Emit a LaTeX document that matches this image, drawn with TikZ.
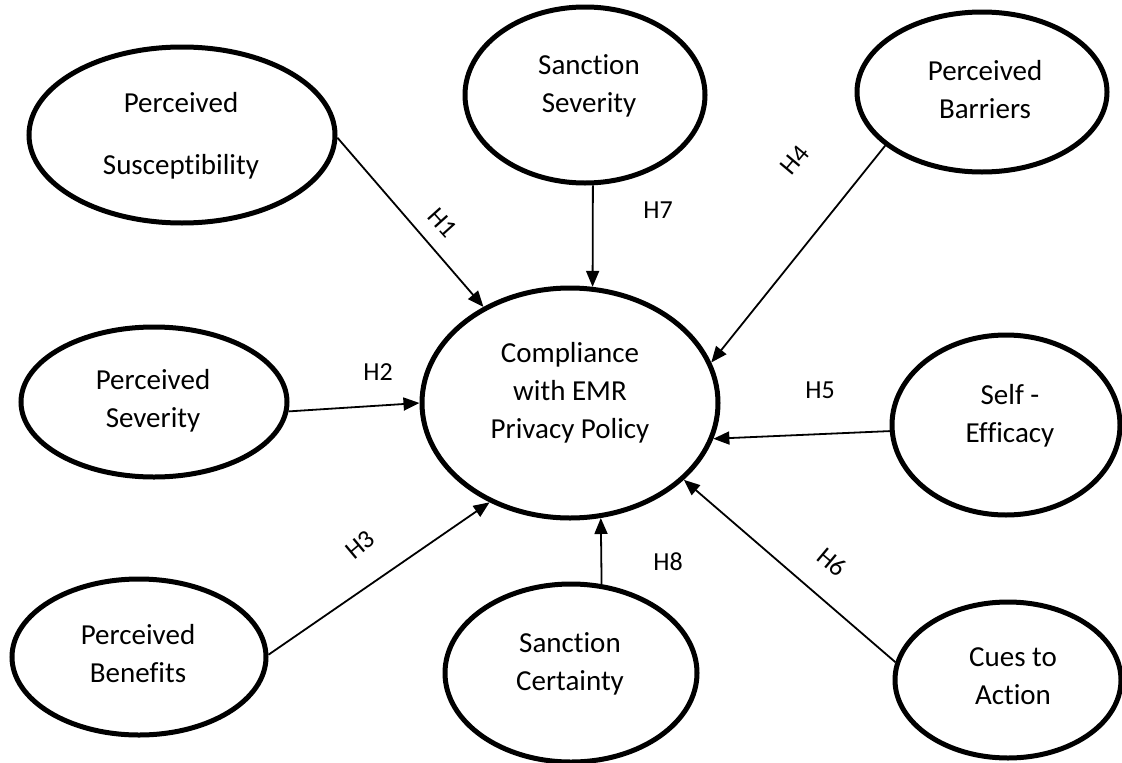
\documentclass[tikz,border=0pt]{standalone}
\usepackage{fontspec}
\setmainfont{Carlito}[Ligatures=NoCommon]
\usetikzlibrary{shapes.geometric,arrows.meta}
\begin{document}
\begin{tikzpicture}[x=1pt,y=-1pt,
  construct/.style={draw, ellipse, line width=5pt, inner sep=0pt},
  txt/.style={align=center, font=\fontsize{29}{38}\selectfont},
  hyp/.style={font=\fontsize{26}{30}\selectfont, inner sep=0pt},
  arr/.style={line width=1.8pt, -{Triangle[length=16pt,width=13pt]}},
  ]
\useasboundingbox (0,0) rectangle (1122,763);
% constructs
\node[construct, minimum width=306pt, minimum height=176pt] (sus) at (182,135) {};
\node[construct, minimum width=240pt, minimum height=176pt] (ssev) at (585,95) {};
\node[construct, minimum width=250pt, minimum height=160pt] (bar) at (982,92) {};
\node[construct, minimum width=296pt, minimum height=230pt] (comp) at (570,403) {};
\node[construct, minimum width=266pt, minimum height=150pt] (sev) at (154,402) {};
\node[construct, minimum width=228pt, minimum height=180pt] (self) at (1006,425) {};
\node[construct, minimum width=254pt, minimum height=156pt] (ben) at (139,657) {};
\node[construct, minimum width=252pt, minimum height=178pt] (cert) at (571,673) {};
\node[construct, minimum width=226pt, minimum height=156pt] (cues) at (1008,680) {};
% texts
\node[txt, font=\fontsize{29}{62}\selectfont] (susT) at (181,136) {Perceived\\Susceptibility};
\node[txt] (ssevT) at (589,86) {Sanction\\Severity};
\node[txt] (barT) at (985,90) {Perceived\\Barriers};
\node[txt] (compT) at (570,393) {Compliance\\with EMR\\Privacy Policy};
\node[txt] (sevT) at (153,401) {Perceived\\Severity};
\node[txt] (selfT) at (1010,416) {Self -\\Efficacy};
\node[txt] (benT) at (138,654) {Perceived\\Benefits};
\node[txt] (certT) at (570,664) {Sanction\\Certainty};
\node[txt] (cuesT) at (1013,676) {Cues to\\Action};
% connectors
\draw[arr] (sus.-1) -- (comp.132);
\draw[arr] (ssev.-85) -- (comp.79);
\draw[arr] (bar.209.6) -- (comp.16.8);
\draw[arr] (sev.-4.3) -- (comp.180);
\draw[arr] (self.183.5) -- (comp.-14.1);
\draw[arr] (ben.1.8) -- (comp.231.3);
\draw[arr] (cert.71) -- (comp.-75.4);
\draw[arr] (cues.171.3) -- (comp.-34);
% hypothesis labels
\node[hyp, rotate=-48] (h1) at (443,223) {H1};
\node[hyp] (h7) at (658,210) {H7};
\node[hyp, rotate=50] (h4) at (795,160) {H4};
\node[hyp] (h2) at (378,372) {H2};
\node[hyp] (h5) at (820,390) {H5};
\node[hyp, rotate=40] (h3) at (360,545) {H3};
\node[hyp] (h8) at (668,562) {H8};
\node[hyp, rotate=-40] (h6) at (832,562) {H6};
\end{tikzpicture}
\end{document}
